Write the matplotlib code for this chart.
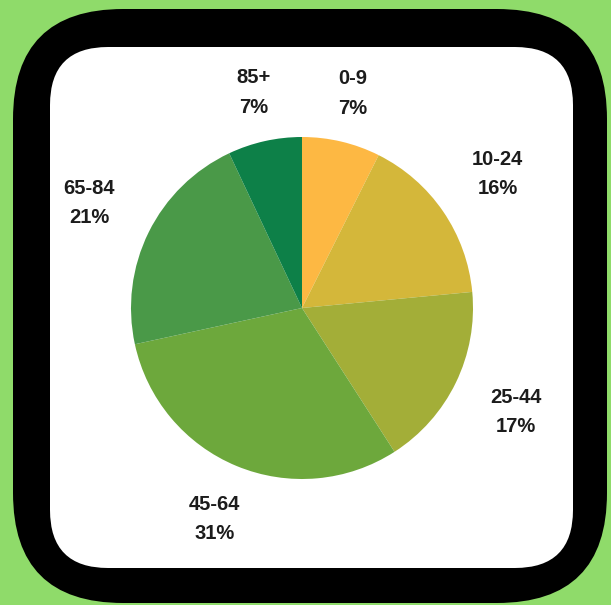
import matplotlib

matplotlib.use("Agg")
import matplotlib.pyplot as plt
import numpy as np
from matplotlib.patches import FancyBboxPatch

# age groups, share of total (%)
AGE_GROUPS = ["0-9", "10-24", "25-44", "45-64", "65-84", "85+"]
SHARES = [7.4, 16.1, 17.4, 30.7, 21.4, 7.0]
PCT_LABELS = ["7%", "16%", "17%", "31%", "21%", "7%"]
COLORS = ["#FDB843", "#D4B73A", "#A3AE38", "#6DA83C", "#4A9948", "#0D8048"]

W, H = 611, 605
BG_GREEN = "#8FDB6A"

fig = plt.figure(figsize=(W / 100, H / 100), dpi=100)
fig.patch.set_facecolor(BG_GREEN)

# background card: black rounded frame with a white rounded panel inside
bg = fig.add_axes([0, 0, 1, 1])
bg.set_xlim(0, W)
bg.set_ylim(H, 0)
bg.axis("off")
bg.add_patch(FancyBboxPatch((13, 9), 594, 594,
                            boxstyle="round,pad=0,rounding_size=110",
                            fc="black", ec="none"))
bg.add_patch(FancyBboxPatch((50, 47), 523, 521,
                            boxstyle="round,pad=0,rounding_size=58",
                            fc="white", ec="none"))

# pie, centred at ~ (302, 308) px with radius ~171 px
cx, cy, r = 302, 308, 171
pie_ax = fig.add_axes([(cx - r) / W, (H - cy - r) / H, 2 * r / W, 2 * r / H])
wedges, _ = pie_ax.pie(SHARES, colors=COLORS, startangle=90, counterclock=False,
                       wedgeprops=dict(linewidth=0))
pie_ax.set_xlim(-1, 1)
pie_ax.set_ylim(-1, 1)
pie_ax.set_aspect("equal")
pie_ax.axis("off")

# labels sit with the near edge of their text box a fixed gap outside the pie
renderer = fig.canvas.get_renderer()
gap = 1.15
for w, grp, pct in zip(wedges, AGE_GROUPS, PCT_LABELS):
    mid = np.deg2rad((w.theta1 + w.theta2) / 2)
    ux, uy = np.cos(mid), np.sin(mid)
    t = pie_ax.text(0, 0, f"{grp}\n{pct}", ha="center", va="center",
                    fontsize=14.5, fontweight="bold", family="Liberation Sans",
                    color="#1c1c1c", linespacing=1.7, clip_on=False)
    bb = t.get_window_extent(renderer=renderer)
    support = (0.7 * bb.width * abs(ux) + 0.4 * bb.height * abs(uy)) / r
    t.set_position(((gap + support) * ux, (gap + support) * uy))

fig.savefig("out.png", dpi=100, facecolor=fig.get_facecolor())
